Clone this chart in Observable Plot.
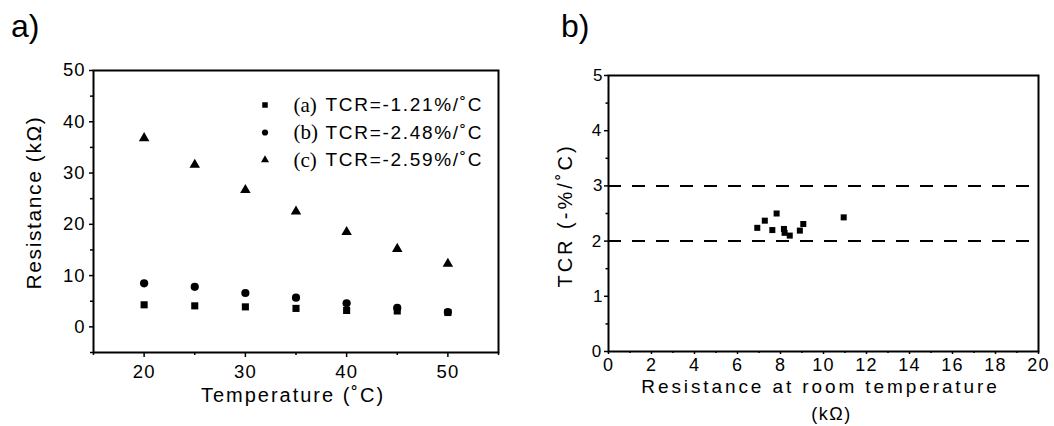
<!DOCTYPE html>
<html><head><meta charset="utf-8">
<script src="https://cdn.jsdelivr.net/npm/d3@7"></script>
<script src="https://cdn.jsdelivr.net/npm/@observablehq/plot@0.6"></script>
<style>
body{margin:0;background:#fff;}
#wrap{position:relative;width:1054px;height:426px;overflow:hidden;font-family:"Liberation Sans",Arial,sans-serif;background:#fff;}
.panel{position:absolute;top:0;z-index:1;}
.tag{position:absolute;z-index:2;font-size:32px;line-height:1;color:#000;font-family:"Liberation Sans",Arial,sans-serif;}
</style></head><body>
<div id="wrap">
  <div id="pa" class="panel" style="left:0"></div>
  <div id="pb" class="panel" style="left:527px"></div>
  <div class="tag" style="left:11px;top:10px">a)</div>
  <div class="tag" style="left:561px;top:10px">b)</div>
</div>
<script>
// ---------- Panel a) data ----------
const temperatures = [20, 25, 30, 35, 40, 45, 50];
const resistanceA = [4.3, 4.1, 3.9, 3.6, 3.2, 3.1, 2.8];
const resistanceB = [8.5, 7.8, 6.6, 5.7, 4.6, 3.7, 2.9];
const resistanceC = [36.8, 31.6, 26.7, 22.5, 18.5, 15.2, 12.3];
const seriesKeys = ["(a)", "(b)", "(c)"];
const seriesTCR = ["TCR=-1.21%/˚C", "TCR=-2.48%/˚C", "TCR=-2.59%/˚C"];
const seriesSymbols = ["square", "circle", "triangle"];
const aXMajor = [20, 30, 40, 50];
const aXMinor = [15, 25, 35, 45, 55];
const aYMajor = [0, 10, 20, 30, 40, 50];
const aYMinor = [-5, 5, 15, 25, 35, 45];
const aXLabel = "Temperature (˚C)";
const aYLabel = "Resistance (kΩ)";

// ---------- Panel b) data ----------
const roomResistance = [6.92, 7.27, 7.82, 7.62, 8.16, 8.19, 8.43, 8.90, 9.06, 10.94];
const tcrValues = [2.24, 2.37, 2.50, 2.20, 2.22, 2.15, 2.10, 2.19, 2.31, 2.43];
const tcrLimits = [2, 3];
const bXMajor = [0, 2, 4, 6, 8, 10, 12, 14, 16, 18, 20];
const bXMinor = [1, 3, 5, 7, 9, 11, 13, 15, 17, 19];
const bYMajor = [0, 1, 2, 3, 4, 5];
const bYMinor = [0.5, 1.5, 2.5, 3.5, 4.5];
const bXLabel1 = "Resistance at room temperature";
const bXLabel2 = "(kΩ)";
const bYLabel = "TCR (-%/˚C)";

const SANS = "Liberation Sans, Arial, sans-serif";
const SERIF = "Liberation Serif, Times New Roman, serif";
const intFmt = d => String(d);

function spacing(svg, map) {
  d3.select(svg).selectAll("text").each(function () {
    const t = this.textContent;
    if (map.has(t)) this.setAttribute("letter-spacing", map.get(t));
  });
}

// ---------- Panel a) ----------
const seriesValues = [resistanceA, resistanceB, resistanceC];
const dataSizes = {square: 4.0, circle: 4.1, triangle: 3.9};
const legendSizes = {square: 3.1, circle: 3.1, triangle: 3.0};

const marksA = [
  Plot.axisY({ticks: aYMajor, tickSize: 4, tickPadding: 4, tickFormat: intFmt, fontSize: 18.5, label: null, strokeWidth: 1.5}),
  Plot.axisY({ticks: aYMinor, tickSize: 3, tickFormat: () => "", label: null, strokeWidth: 1.5}),
  Plot.axisX({ticks: aXMajor, tickSize: 5, tickPadding: 7, tickFormat: intFmt, fontSize: 18.5, label: null, strokeWidth: 1.5}),
  Plot.axisX({ticks: aXMinor, tickSize: 3, tickFormat: () => "", label: null, strokeWidth: 1.5}),
  Plot.frame({stroke: "#000", strokeWidth: 2})
];
seriesValues.forEach((vals, i) => {
  const rows = temperatures.map((t, j) => ({t, r: vals[j]}));
  marksA.push(Plot.dot(rows, {x: "t", y: "r", symbol: seriesSymbols[i], r: dataSizes[seriesSymbols[i]], fill: "#000", stroke: "none"}));
  marksA.push(Plot.dot([seriesKeys[i]], {frameAnchor: "top-left", dx: 171.5, dy: 34.5 + i * 27.5, symbol: seriesSymbols[i], r: legendSizes[seriesSymbols[i]], fill: "#000", stroke: "none"}));
  marksA.push(Plot.text([seriesKeys[i]], {text: d => d, frameAnchor: "top-left", dx: 200, dy: 34.5 + i * 27.5, textAnchor: "start", lineAnchor: "middle", fontFamily: SERIF, fontSize: 21, fill: "#000"}));
  marksA.push(Plot.text([seriesTCR[i]], {text: d => d, frameAnchor: "top-left", dx: 232, dy: 34.5 + i * 27.5, textAnchor: "start", lineAnchor: "middle", fontFamily: SANS, fontSize: 19, fill: "#000"}));
});
marksA.push(Plot.text([aYLabel], {text: d => d, frameAnchor: "left", dx: -59, dy: -9, rotate: -90, textAnchor: "middle", lineAnchor: "middle", fontSize: 21, fontFamily: SANS, fill: "#000"}));
marksA.push(Plot.text([aXLabel], {text: d => d, frameAnchor: "bottom", dx: -3, dy: 43.5, textAnchor: "middle", lineAnchor: "middle", fontSize: 20, fontFamily: SANS, fill: "#000"}));

const plotA = Plot.plot({
  width: 527, height: 426,
  marginLeft: 93, marginRight: 29, marginTop: 70, marginBottom: 74,
  style: {fontFamily: SANS, color: "#000", background: "transparent", overflow: "visible"},
  x: {domain: [15, 55]},
  y: {domain: [-5, 50]},
  marks: marksA
});
spacing(plotA, new Map([
  ...seriesTCR.map(s => [s, "1.7"]),
  [aYLabel, "1.6"], [aXLabel, "2"],
  ...aYMajor.map(v => [String(v), "1"]), ...aXMajor.map(v => [String(v), "1"])
]));
document.getElementById("pa").appendChild(plotA);

// ---------- Panel b) ----------
const points = roomResistance.map((x, i) => ({x, y: tcrValues[i]}));
const marksB = [
  Plot.ruleY(tcrLimits, {stroke: "#000", strokeWidth: 2, strokeDasharray: "13,11"}),
  Plot.axisY({ticks: bYMajor, tickSize: 4, tickPadding: 2, tickFormat: intFmt, fontSize: 17, label: null, strokeWidth: 1.5}),
  Plot.axisY({ticks: bYMinor, tickSize: 2.5, tickFormat: () => "", label: null, strokeWidth: 1.5}),
  Plot.axisX({ticks: bXMajor, tickSize: 3, tickPadding: 4, tickFormat: intFmt, fontSize: 18, label: null, strokeWidth: 1.5}),
  Plot.axisX({ticks: bXMinor, tickSize: 2, tickFormat: () => "", label: null, strokeWidth: 1.5}),
  Plot.frame({stroke: "#000", strokeWidth: 2}),
  Plot.dot(points, {x: "x", y: "y", symbol: "square", r: 3.4, fill: "#000", stroke: "none"}),
  Plot.text([bYLabel], {text: d => d, frameAnchor: "left", dx: -42.5, dy: 2, rotate: -90, textAnchor: "middle", lineAnchor: "middle", fontSize: 20, fontFamily: SANS, fill: "#000"}),
  Plot.text([bXLabel1], {text: d => d, frameAnchor: "bottom", dx: -3, dy: 35.5, textAnchor: "middle", lineAnchor: "middle", fontSize: 19, fontFamily: SANS, fill: "#000"}),
  Plot.text([bXLabel2], {text: d => d, frameAnchor: "bottom", dx: 8, dy: 62.5, textAnchor: "middle", lineAnchor: "middle", fontSize: 18, fontFamily: SANS, fill: "#000"})
];
const plotB = Plot.plot({
  width: 527, height: 426,
  marginLeft: 81, marginRight: 16, marginTop: 75, marginBottom: 75,
  style: {fontFamily: SANS, color: "#000", background: "transparent", overflow: "visible"},
  x: {domain: [0, 20]},
  y: {domain: [0, 5]},
  marks: marksB
});
spacing(plotB, new Map([
  [bYLabel, "3"], [bXLabel1, "2.9"], [bXLabel2, "1.5"],
  ...bXMajor.map(v => [String(v), "1.2"])
]));
document.getElementById("pb").appendChild(plotB);
</script>
</body></html>
